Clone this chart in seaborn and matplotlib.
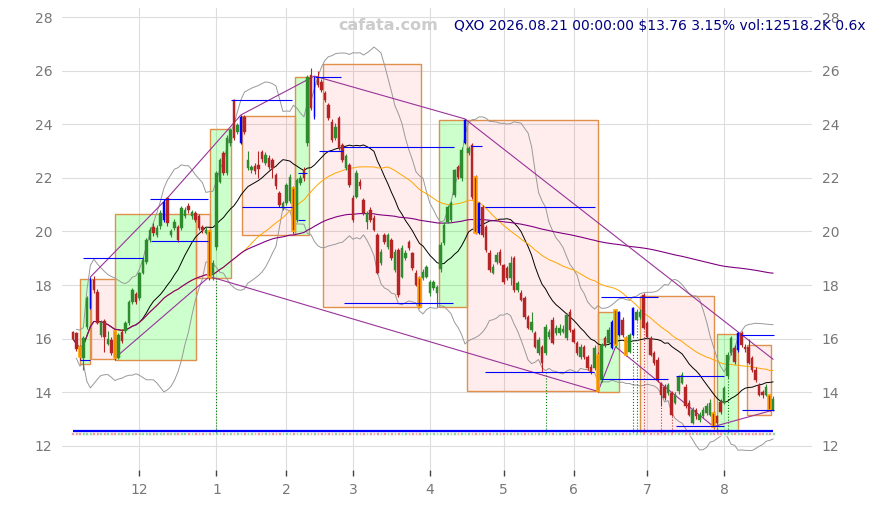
import numpy as np
import pandas as pd
import seaborn as sns
import matplotlib.pyplot as plt
from matplotlib.patches import Rectangle

# 종목 / 거래일
ticker = "QXO"
first_day, last_day = "2025-11-03", "2026-08-21"
holidays = ["2025-11-27", "2025-12-25", "2026-01-01", "2026-01-19", "2026-02-16",
            "2026-04-03", "2026-05-25", "2026-06-19", "2026-07-03"]
last_vol_k = 12518.2
vol_ratio = 0.6

opens = [16.25, 16.20, 15.70, 15.28, 16.44, 17.15, 18.20, 17.76, 16.14, 16.67,
         15.80, 15.96, 16.27, 15.28, 16.26, 16.27, 16.59, 17.38, 17.67, 17.51,
         18.45, 18.88, 19.69, 20.18, 19.87, 20.20, 20.43, 21.25, 19.87, 20.12,
         20.18, 20.13, 20.56, 20.96, 20.56, 20.69, 20.56, 20.15, 19.95, 20.00,
         18.38, 19.44, 21.86, 22.93, 22.19, 23.31, 24.91, 23.73, 23.30, 24.29,
         22.37, 22.30, 22.45, 22.50, 22.98, 22.56, 22.75, 22.67, 22.11, 21.44,
         20.88, 21.07, 21.12, 21.63, 20.43, 21.81, 22.30, 23.30, 25.84, 24.29,
         25.78, 25.59, 25.17, 24.72, 24.10, 23.49, 24.24, 23.23, 22.37, 22.48,
         21.25, 21.30, 21.86, 21.18, 20.37, 20.80, 20.50, 19.87, 18.83, 19.87,
         19.44, 19.69, 18.57, 19.31, 18.32, 19.01, 19.62, 19.20, 18.46, 18.27,
         18.27, 18.32, 17.70, 17.88, 17.70, 18.60, 19.57, 20.37, 20.43, 21.37,
         22.42, 22.00, 23.30, 22.93, 23.23, 22.04, 19.95, 20.93, 20.18, 19.20,
         18.46, 18.88, 19.25, 18.75, 18.64, 18.27, 19.01, 17.82, 17.70, 17.52,
         16.82, 16.33, 16.22, 15.47, 15.70, 15.47, 16.08, 16.70, 16.22, 16.22,
         16.25, 16.03, 17.01, 16.33, 15.84, 15.33, 15.70, 15.33, 14.96, 14.91,
         15.40, 14.46, 16.03, 15.84, 15.64, 15.77, 16.14, 16.70, 16.03, 15.52,
         16.14, 16.70, 16.82, 17.63, 16.58, 16.03, 15.47, 15.21, 14.35, 14.21,
         13.98, 13.98, 13.60, 14.03, 14.35, 14.21, 13.60, 12.86, 13.34, 12.97,
         13.10, 13.23, 13.16, 13.23, 13.10, 13.65, 13.60, 14.59, 15.47, 15.64,
         15.58, 16.22, 15.70, 15.70, 15.28, 14.84, 14.28, 14.00, 13.90, 13.90,
         13.34]
closes = [16.00, 15.62, 15.33, 16.03, 17.52, 18.20, 17.80, 16.60, 16.64, 16.08,
          15.98, 15.47, 15.28, 16.14, 15.93, 16.59, 17.38, 17.82, 17.38, 18.44,
          18.94, 19.69, 20.06, 19.94, 20.13, 20.70, 21.10, 20.30, 20.00, 20.37,
          19.69, 20.88, 20.80, 20.80, 20.74, 20.43, 20.12, 20.05, 20.06, 18.32,
          18.83, 22.19, 22.67, 22.19, 23.49, 23.79, 23.49, 23.98, 24.29, 23.73,
          22.67, 22.42, 22.26, 22.35, 22.70, 22.86, 22.42, 22.37, 21.68, 20.99,
          21.07, 21.74, 22.05, 20.00, 21.93, 22.00, 22.00, 25.78, 24.61, 25.73,
          25.47, 25.28, 24.91, 24.24, 23.42, 23.91, 23.12, 22.67, 22.80, 21.74,
          20.43, 22.19, 21.68, 20.69, 20.69, 20.43, 20.06, 18.46, 19.25, 19.62,
          19.87, 19.01, 19.25, 17.63, 19.39, 19.20, 19.39, 18.64, 18.01, 17.20,
          18.50, 18.69, 18.13, 18.13, 17.94, 19.50, 20.25, 20.93, 21.07, 22.30,
          22.05, 23.04, 24.16, 23.12, 21.30, 19.95, 21.07, 19.87, 19.31, 18.57,
          18.69, 19.13, 18.83, 18.13, 18.27, 18.83, 17.82, 18.08, 17.45, 16.82,
          16.40, 16.64, 15.70, 15.96, 15.10, 16.45, 16.26, 15.84, 16.40, 16.40,
          16.35, 16.89, 16.33, 15.89, 15.47, 15.70, 15.33, 14.91, 14.77, 15.66,
          14.03, 15.77, 15.77, 16.33, 16.64, 17.07, 17.01, 16.14, 15.40, 16.14,
          17.15, 17.01, 17.01, 16.40, 16.08, 15.40, 15.10, 14.46, 13.90, 13.79,
          14.28, 13.16, 13.90, 14.58, 14.65, 13.47, 13.16, 13.34, 13.10, 13.16,
          13.34, 13.49, 13.60, 12.72, 12.86, 13.28, 14.16, 15.40, 16.03, 15.14,
          16.22, 15.77, 15.60, 15.10, 14.84, 14.46, 13.90, 13.90, 14.21, 13.34,
          13.76]
highs = [16.30, 16.25, 15.75, 16.10, 17.60, 18.30, 18.34, 17.85, 16.70, 16.75,
         16.30, 16.05, 16.35, 16.20, 16.35, 16.65, 17.45, 17.90, 17.75, 18.50,
         19.05, 19.75, 20.15, 20.30, 20.25, 20.80, 21.20, 21.30, 20.10, 20.45,
         20.25, 20.95, 20.90, 21.05, 20.80, 20.75, 20.65, 20.25, 20.15, 20.05,
         18.95, 22.25, 22.75, 23.00, 23.60, 23.85, 24.95, 24.05, 24.35, 24.35,
         23.00, 22.50, 22.55, 23.00, 23.05, 22.95, 22.85, 22.75, 22.20, 21.50,
         21.15, 21.80, 22.15, 21.70, 22.00, 22.10, 22.40, 25.85, 26.10, 25.80,
         26.00, 25.70, 25.25, 24.80, 24.20, 24.05, 24.30, 23.30, 22.90, 22.55,
         21.35, 22.30, 21.95, 21.25, 20.75, 20.90, 20.60, 19.95, 19.35, 19.95,
         19.95, 19.75, 19.35, 19.40, 19.50, 19.30, 19.70, 19.25, 18.55, 18.35,
         18.60, 18.75, 18.20, 18.20, 18.00, 19.60, 20.35, 21.00, 21.15, 22.35,
         22.50, 23.15, 24.20, 23.20, 23.30, 22.10, 21.10, 21.00, 20.25, 19.30,
         18.80, 19.25, 19.35, 18.80, 18.70, 19.10, 19.10, 18.15, 17.80, 17.60,
         16.90, 17.00, 16.30, 16.05, 15.75, 16.55, 16.35, 16.80, 16.50, 16.55,
         16.50, 16.95, 17.10, 16.40, 15.90, 15.80, 15.75, 15.40, 15.05, 15.75,
         15.50, 15.85, 16.10, 16.45, 16.70, 17.10, 17.05, 16.80, 16.10, 16.20,
         17.20, 17.10, 17.10, 17.70, 16.65, 16.10, 15.55, 15.30, 14.40, 14.30,
         14.35, 14.05, 14.00, 14.65, 14.75, 14.30, 13.70, 13.45, 13.40, 13.25,
         13.45, 13.60, 13.75, 13.30, 13.15, 13.75, 14.25, 15.50, 16.10, 15.75,
         16.25, 16.30, 15.80, 16.00, 15.35, 14.95, 14.35, 14.10, 14.30, 13.95,
         13.85]
lows = [15.95, 15.55, 15.20, 14.84, 16.35, 17.10, 17.70, 16.55, 16.05, 15.50,
        15.75, 15.40, 15.20, 15.25, 15.85, 16.20, 16.50, 17.30, 17.30, 17.45,
        18.40, 18.80, 19.60, 19.85, 19.80, 20.10, 20.35, 20.20, 19.80, 20.05,
        19.60, 20.05, 20.50, 20.70, 20.45, 20.35, 20.05, 19.95, 19.90, 18.20,
        18.20, 19.30, 21.80, 22.10, 22.10, 23.20, 23.40, 23.65, 23.25, 23.65,
        22.30, 22.20, 22.15, 22.00, 22.60, 22.50, 22.35, 22.00, 21.60, 20.90,
        20.80, 21.00, 21.05, 19.90, 20.35, 21.75, 21.90, 23.20, 24.55, 24.20,
        25.40, 25.20, 24.85, 24.15, 23.35, 23.40, 23.05, 22.60, 22.30, 21.65,
        20.35, 21.25, 21.60, 20.60, 20.10, 20.35, 20.00, 18.40, 18.75, 19.55,
        19.35, 18.95, 18.50, 17.55, 18.25, 18.95, 19.30, 18.55, 17.95, 17.15,
        18.20, 18.25, 17.60, 17.80, 17.20, 18.50, 19.50, 20.30, 20.35, 21.30,
        21.95, 21.90, 23.25, 22.85, 21.20, 19.90, 19.90, 19.80, 19.25, 18.50,
        18.40, 18.80, 18.75, 18.05, 18.20, 18.00, 17.75, 17.75, 17.40, 16.75,
        16.35, 16.25, 15.65, 15.40, 14.75, 15.40, 16.00, 15.80, 16.15, 16.15,
        16.20, 15.95, 16.25, 15.85, 15.40, 15.25, 15.25, 14.85, 14.70, 14.85,
        14.00, 14.40, 15.70, 15.80, 15.60, 15.70, 16.10, 16.05, 15.35, 15.45,
        16.10, 16.65, 16.75, 16.35, 16.00, 15.35, 15.00, 14.40, 13.50, 13.70,
        13.90, 13.10, 13.55, 13.95, 14.30, 13.40, 13.10, 12.80, 13.00, 12.90,
        13.05, 13.15, 13.10, 12.65, 12.80, 13.20, 13.55, 14.50, 15.40, 15.05,
        15.50, 15.70, 15.50, 15.05, 14.75, 14.40, 13.85, 13.80, 13.85, 13.30,
        13.30]

# 신호 캔들
blue_bars = [5, 26, 48, 69, 112, 116, 154, 156, 160, 190]
orange_bars = [2, 12, 39, 63, 99, 115, 150, 155, 158, 183, 199]

# 박스 (시작봉, 끝봉, 하단, 상단, 상승여부)
box_x0 = [2.0, 5.1, 12.0, 35.3, 39.1, 48.4, 63.4, 71.5, 104.7, 112.6, 150.0, 162.0, 184.1, 192.4]
box_x1 = [4.9, 12.0, 35.1, 39.1, 45.1, 63.4, 67.5, 99.4, 112.6, 150.0, 156.0, 183.2, 190.1, 199.3]
box_lo = [15.06, 15.25, 15.20, 18.27, 18.27, 19.87, 19.87, 17.19, 17.20, 14.05, 14.00, 12.52, 12.52, 13.16]
box_hi = [18.23, 18.23, 20.66, 20.66, 23.83, 24.31, 25.78, 26.24, 24.16, 24.16, 16.99, 17.60, 16.18, 15.76]
box_up = [True, False, True, False, True, False, True, False, True, False, True, False, True, False]

# 추세선 꼭지점
upper_piv_x = [5, 27, 48, 69, 112, 190]
upper_piv_y = [18.30, 21.25, 24.35, 25.80, 24.20, 16.25]
lower_piv_x = [12, 39, 150, 155, 183, 199]
lower_piv_y = [15.28, 18.32, 14.03, 15.70, 12.72, 13.30]

# 지지/저항 수평선
seg_x0 = [2.0, 2.9, 22.0, 22.3, 45.1, 48.3, 64.3, 64.3, 69.1, 70.3, 77.1, 77.4, 113.7, 117.7, 117.7, 150.9, 150.9, 172.3, 172.3, 190.9, 191.1]
seg_x1 = [4.9, 20.0, 38.6, 38.6, 62.6, 62.6, 66.9, 66.3, 76.6, 77.1, 108.9, 108.6, 116.9, 149.0, 148.9, 167.0, 170.0, 186.0, 186.0, 200.3, 200.3]
seg_y = [15.20, 19.00, 21.20, 19.65, 24.90, 20.92, 22.20, 20.43, 25.76, 23.00, 23.17, 17.32, 23.19, 20.90, 14.75, 17.55, 14.50, 14.62, 12.75, 16.14, 13.34]

# 점선 수직선
vline_x = [41, 135, 160, 161, 162, 163, 168, 171, 184, 187]
vline_top = [18.30, 14.75, 16.20, 16.70, 16.80, 17.60, 13.50, 13.10, 12.80, 14.50]
vline_col = ['green', 'green', 'green', 'green', '#b8a040', '#cc3333', '#cc3333', '#cc3333', '#cc3333', 'green']

# 데이터프레임
days = pd.bdate_range(first_day, last_day)
days = days[~days.isin(pd.to_datetime(holidays))]
df = pd.DataFrame({'open': opens, 'high': highs, 'low': lows, 'close': closes}, index=days)
df['i'] = np.arange(len(df))
df['ma20'] = df['close'].rolling(20, min_periods=1).mean()
df['ma50'] = df['close'].rolling(50, min_periods=1).mean()
df['ma200'] = df['close'].rolling(200, min_periods=1).mean()
sd = df['close'].rolling(20, min_periods=2).std()
df['bb_up'] = df['ma20'] + 2 * sd
df['bb_dn'] = df['ma20'] - 2 * sd

sns.set_style('whitegrid', {'grid.color': '#dddddd'})
fig = plt.figure(figsize=(8.75, 5.05), dpi=100)
ax = fig.add_axes([62 / 875, 35 / 505, 750 / 875, 462 / 505])
ax.set_axisbelow(True)

# 박스
for x0, x1, lo, hi, up in zip(box_x0, box_x1, box_lo, box_hi, box_up):
    fc = (0.0, 1.0, 0.0, 0.2) if up else (1.0, 0.0, 0.0, 0.07)
    ax.add_patch(Rectangle((x0, lo), x1 - x0, hi - lo, facecolor=fc,
                           edgecolor='#e0904a', lw=1.0, zorder=1))

# 이동평균 / 볼린저
for col, c, lw in [('bb_up', '#999999', 0.7), ('bb_dn', '#999999', 0.7), ('ma20', 'black', 0.7),
                   ('ma50', 'orange', 0.7), ('ma200', 'purple', 0.8)]:
    sns.lineplot(x=df['i'], y=df[col], color=c, lw=lw, ax=ax, legend=False, zorder=2)

# 추세선
def extend(px, py, n):
    px, py = list(px), list(py)
    slope = (py[-1] - py[-2]) / (px[-1] - px[-2])
    return px + [n - 1], py + [py[-1] + slope * (n - 1 - px[-1])]

ux, uy = extend(upper_piv_x, upper_piv_y, len(df))
lx, ly = extend(lower_piv_x, lower_piv_y, len(df))
ax.plot(ux, uy, color='#993399', lw=0.8, zorder=3)
ax.plot(lx, ly, color='#993399', lw=0.8, zorder=3)

# 거래량 띠
up_mask = df['close'] >= df['open']
vcol = np.where(up_mask, '#4caa4c', '#d05050')
ax.bar(df['i'], 0.1, bottom=12.42, width=0.8, color=vcol, alpha=0.7, zorder=2)
ax.hlines(12.57, 0, len(df) - 1, color='blue', lw=1.6, zorder=3)

# 점선 수직선
for x, top, c in zip(vline_x, vline_top, vline_col):
    ax.vlines(x, 12.52, top, color=c, lw=0.8, linestyles=':', zorder=2)

# 캔들
colors = []
for k in range(len(df)):
    if k in blue_bars:
        colors.append('blue')
    elif df['close'].iloc[k] >= df['open'].iloc[k]:
        colors.append('#2e8b2e')
    else:
        colors.append('#b52525')
body_lo = df[['open', 'close']].min(axis=1)
body_h = (df['close'] - df['open']).abs().clip(lower=0.04)
ax.vlines(df['i'], df['low'], df['high'], color=colors, lw=0.8, zorder=4)
widths = [0.4 if k in blue_bars else 0.75 for k in range(len(df))]
edges = ['orange' if k in orange_bars else colors[k] for k in range(len(df))]
ax.bar(df['i'], body_h, bottom=body_lo, width=widths, color=colors,
       edgecolor=edges, linewidth=[1.2 if k in orange_bars else 0.3 for k in range(len(df))], zorder=5)

# 수평선
ax.hlines(seg_y, seg_x0, seg_x1, color='blue', lw=0.8, zorder=6)

# 축
ax.set_xlim(-3.1, 211.1)
ax.set_ylim(11.1, 28.34)
month_pos = [k for k in range(1, len(df)) if days[k].month != days[k - 1].month]
ax.set_xticks(month_pos)
ax.set_xticklabels([str(days[k].month) for k in month_pos])
ax.set_yticks(np.arange(12, 29, 2))
ax.tick_params(axis='x', colors='#444444', labelcolor='#777777', length=4, width=1, labelsize=10, pad=5, bottom=True)
ax.tick_params(axis='y', labelcolor='#777777', length=0, labelsize=10, pad=7, labelright=True)
ax.set_xlabel('')
ax.set_ylabel('')
sns.despine(ax=ax, left=True, bottom=True)
ax.grid(True, color='#dddddd', lw=0.8)

# 텍스트
pct = (closes[-1] / closes[-2] - 1) * 100
info = f"{ticker} {days[-1]:%Y.%m.%d} 00:00:00 \\${closes[-1]:.2f} {pct:.2f}% vol:{last_vol_k}K {vol_ratio}x"
fig.text(388 / 875, 1 - 25 / 505, 'cafata.com', ha='center', va='center', color='#cccccc',
         fontsize=11.5, fontweight='bold')
fig.text(866 / 875, 1 - 26 / 505, info, ha='right', va='center', color='#000080', fontsize=10)

fig.savefig('out.png', dpi=100)
